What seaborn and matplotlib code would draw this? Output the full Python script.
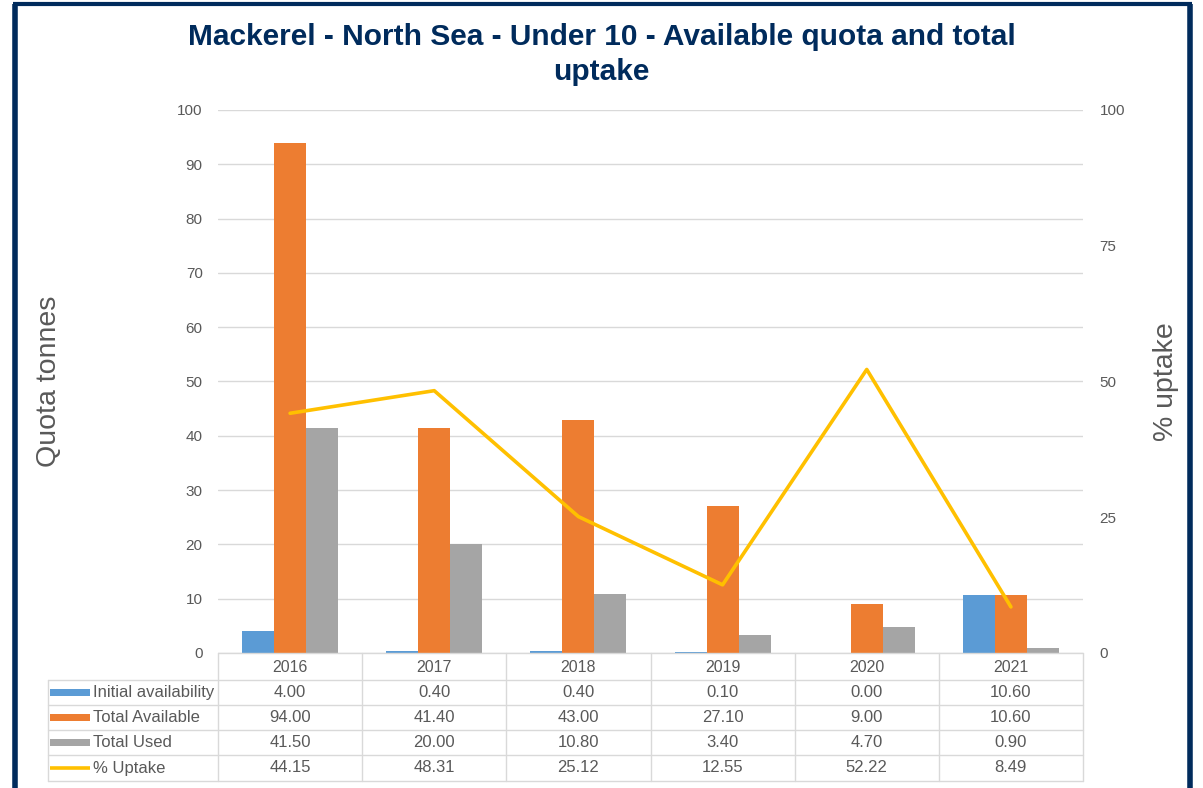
"""Mackerel quota chart: grouped bars + uptake line with an Excel-style data table."""

import matplotlib
matplotlib.use("Agg")
import matplotlib.pyplot as plt
import numpy as np
import pandas as pd
import seaborn as sns
from matplotlib.patches import Rectangle

# ---------------------------------------------------------------------------
# Data
# ---------------------------------------------------------------------------
years = ["2016", "2017", "2018", "2019", "2020", "2021"]
initial_availability = [4.00, 0.40, 0.40, 0.10, 0.00, 10.60]
total_available = [94.00, 41.40, 43.00, 27.10, 9.00, 10.60]
total_used = [41.50, 20.00, 10.80, 3.40, 4.70, 0.90]
pct_uptake = [44.15, 48.31, 25.12, 12.55, 52.22, 8.49]

bar_series = ["Initial availability", "Total Available", "Total Used"]
line_series = "% Uptake"
left_ticks = list(range(0, 101, 10))
right_ticks = [0, 25, 50, 75, 100]

BLUE, ORANGE, GRAY, YELLOW = "#5B9BD5", "#ED7D31", "#A5A5A5", "#FFC000"
NAVY = "#002B5C"
TXT = "#595959"
GRID = "#D9D9D9"

sns.set_theme(style="white")
plt.rcParams["font.family"] = ["Liberation Sans", "DejaVu Sans"]

W_PX, H_PX = 1203, 788
fig = plt.figure(figsize=(W_PX / 100, H_PX / 100), dpi=100)

# plot area in pixels (left, right, top, bottom)
PL, PR, PT, PB = 218, 1083, 110, 653
ax = fig.add_axes([PL / W_PX, 1 - PB / H_PX, (PR - PL) / W_PX, (PB - PT) / H_PX])

df = pd.DataFrame({
    "year": np.repeat(years, len(bar_series)),
    "series": bar_series * len(years),
    "value": np.column_stack([initial_availability, total_available, total_used]).ravel(),
})
sns.barplot(data=df, x="year", y="value", hue="series", hue_order=bar_series,
            palette=[BLUE, ORANGE, GRAY], saturation=1, width=0.667,
            linewidth=0, legend=False, ax=ax)

ax.set_xlim(-0.5, len(years) - 0.5)
ax.set_ylim(0, 100)
ax.set_yticks(left_ticks)
ax.set_xticks([])
ax.set_xlabel("")
ax.set_ylabel("Quota tonnes", fontsize=20.5, color=TXT)
ax.yaxis.set_label_coords(-0.180, 0.5)
ax.grid(axis="y", color=GRID, linewidth=1)
ax.set_axisbelow(True)
ax.tick_params(axis="y", length=0, pad=11, labelsize=11, labelcolor=TXT)
for s in ax.spines.values():
    s.set_visible(False)

# secondary axis with % uptake line
ax2 = ax.twinx()
sns.lineplot(x=np.arange(len(years)), y=pct_uptake, ax=ax2, color=YELLOW, linewidth=2.6)
ax2.set_ylim(0, 100)
ax2.set_yticks(right_ticks)
ax2.set_ylabel("% uptake", fontsize=20.5, color=TXT, rotation=90)
ax2.yaxis.set_label_coords(1.081, 0.5)
ax2.tick_params(axis="y", length=0, pad=12, labelsize=11, labelcolor=TXT)
ax2.grid(False)
for s in ax2.spines.values():
    s.set_visible(False)

fig.text(0.5, 1 - 37 / H_PX, "Mackerel - North Sea - Under 10 - Available quota and total",
         ha="center", va="center", fontsize=21.5, fontweight="bold", color=NAVY)
fig.text(0.5, 1 - 72 / H_PX, "uptake",
         ha="center", va="center", fontsize=21.5, fontweight="bold", color=NAVY)

# ---------------------------------------------------------------------------
# Data table under the plot (pixel coordinates on an overlay axes)
# ---------------------------------------------------------------------------
ov = fig.add_axes([0, 0, 1, 1], facecolor="none")
ov.set_xlim(0, W_PX)
ov.set_ylim(H_PX, 0)
ov.axis("off")

row_edges = [653, 680, 705, 730, 755, 781]
leg_left = 48
n = len(years)
col_w = (PR - PL) / n
col_edges = [PL + i * col_w for i in range(n + 1)]

ov.plot([PL, PR], [row_edges[0]] * 2, color=GRID, lw=1)
for y in row_edges[1:]:
    ov.plot([leg_left, PR], [y, y], color=GRID, lw=1)
ov.plot([leg_left, leg_left], [row_edges[1], row_edges[-1]], color=GRID, lw=1)
for x in col_edges:
    ov.plot([x, x], [row_edges[0], row_edges[-1]], color=GRID, lw=1)

for i, yr in enumerate(years):
    xc = PL + (i + 0.5) * col_w
    ov.text(xc, (row_edges[0] + row_edges[1]) / 2 + 1, yr, ha="center", va="center",
            fontsize=11.5, color=TXT)

table_rows = [
    (bar_series[0], initial_availability, BLUE, "bar"),
    (bar_series[1], total_available, ORANGE, "bar"),
    (bar_series[2], total_used, GRAY, "bar"),
    (line_series, pct_uptake, YELLOW, "line"),
]
for r, (name, vals, color, kind) in enumerate(table_rows):
    yc = (row_edges[r + 1] + row_edges[r + 2]) / 2
    if kind == "bar":
        ov.add_patch(Rectangle((50, yc - 3.5), 40, 7, color=color, lw=0))
    else:
        ov.plot([50, 90], [yc, yc], color=color, lw=2.6, solid_capstyle="butt")
    ov.text(93, yc, name, ha="left", va="center", fontsize=12, color=TXT)
    for i, v in enumerate(vals):
        xc = PL + (i + 0.5) * col_w
        ov.text(xc, yc, f"{v:.2f}", ha="center", va="center", fontsize=12, color=TXT)

# dark frame around the chart
ov.plot([14.5, 14.5], [4, H_PX], color=NAVY, lw=4, solid_capstyle="butt")
ov.plot([1189.5, 1189.5], [4, H_PX], color=NAVY, lw=4, solid_capstyle="butt")
ov.plot([12.5, 1191.5], [4, 4], color=NAVY, lw=3, solid_capstyle="butt")

fig.savefig("out.png", dpi=100)
plt.close(fig)
